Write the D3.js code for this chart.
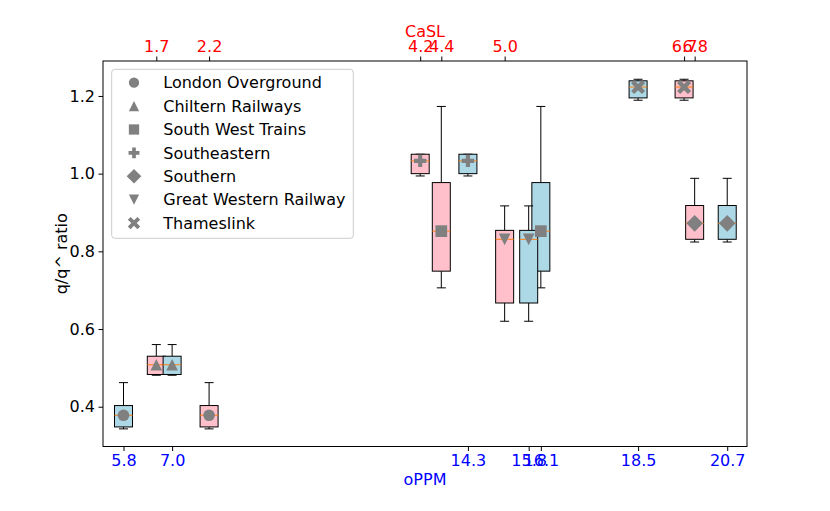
<!DOCTYPE html>
<html>
<head>
<meta charset="utf-8">
<script src="https://cdn.jsdelivr.net/npm/d3@7"></script>
<style>
  body { margin: 0; background: #fff; }
  svg { display: block; }
</style>
</head>
<body>
<svg id="chart" width="830" height="511"></svg>
<script>
// operators, one box pair each (pink = CaSL on top axis, blue = oPPM on bottom axis)
const operators = ["London Overground", "Chiltern Railways", "South West Trains",
  "Southeastern", "Southern", "Great Western Railway", "Thameslink"];
const shapes = ["circle", "triangle", "square", "plus", "diamond", "triangleDown", "x"];
const caslValues = [2.2, 1.7, 4.4, 4.2, 6.8, 5.0, 6.7];
const oppmValues = [5.8, 7.0, 16.1, 14.3, 20.7, 15.8, 18.5];

// q/q^ ratio summary per operator
const whiskerLow  = [0.343, 0.481, 0.706, 0.994, 0.824, 0.620, 1.189];
const q1          = [0.348, 0.483, 0.749, 1.000, 0.831, 0.667, 1.195];
const median      = [0.378, 0.508, 0.852, 1.033, 0.872, 0.831, 1.223];
const q3          = [0.403, 0.530, 0.977, 1.050, 0.918, 0.854, 1.239];
const whiskerHigh = [0.462, 0.560, 1.173, 1.050, 0.988, 0.917, 1.243];

const yTicks = [0.4, 0.6, 0.8, 1.0, 1.2];

const svg = d3.select("#chart");
const margin = { top: 61, right: 83, bottom: 64.5, left: 103 };
const width = +svg.attr("width") - margin.left - margin.right;
const height = +svg.attr("height") - margin.top - margin.bottom;
const font = "DejaVu Sans";

svg.append("rect").attr("width", 830).attr("height", 511).attr("fill", "#fff");

const g = svg.append("g").attr("transform", `translate(${margin.left},${margin.top})`);

const xBottom = d3.scaleLinear().domain([5.294, 21.188]).range([0, width]);
const xTop = d3.scaleLinear().domain([1.195, 7.296]).range([0, width]);
const y = d3.scaleLinear().domain([0.2976, 1.290]).range([height, 0]);

// marker shapes, centred on 0,0
function markerPath(shape, k = 1) {
  const s = 5.85 * k;
  const poly = pts => "M" + pts.map(p => p.join(",")).join("L") + "Z";
  if (shape === "circle") return d3.symbol(d3.symbolCircle, Math.PI * s * s)();
  if (shape === "triangle") return poly([[0, -s], [s, s], [-s, s]]);
  if (shape === "triangleDown") return poly([[0, s], [s, -s], [-s, -s]]);
  if (shape === "square") return poly([[-s, -s], [s, -s], [s, s], [-s, s]]);
  if (shape === "diamond") { const d = s * 1.42; return poly([[0, -d], [d, 0], [0, d], [-d, 0]]); }
  const L = shape === "plus" ? 6.2 * k : 7.7 * k;
  const w = shape === "plus" ? 2.1 * k : 2.2 * k;
  let pts = [[-w, -L], [w, -L], [w, -w], [L, -w], [L, w], [w, w], [w, L], [-w, L], [-w, w], [-L, w], [-L, -w], [-w, -w]];
  if (shape === "x") {
    const c = Math.SQRT1_2;
    pts = pts.map(([a, b]) => [(a - b) * c, (a + b) * c]);
  }
  return poly(pts);
}

const boxW = 18;

function drawBox(cx, i, fill) {
  const b = g.append("g");
  b.append("line").attr("x1", cx).attr("x2", cx)
    .attr("y1", y(whiskerLow[i])).attr("y2", y(q1[i])).attr("stroke", "#000");
  b.append("line").attr("x1", cx).attr("x2", cx)
    .attr("y1", y(q3[i])).attr("y2", y(whiskerHigh[i])).attr("stroke", "#000");
  [whiskerLow[i], whiskerHigh[i]].forEach(v => {
    b.append("line").attr("x1", cx - boxW / 4).attr("x2", cx + boxW / 4)
      .attr("y1", y(v)).attr("y2", y(v)).attr("stroke", "#000");
  });
  b.append("rect")
    .attr("x", cx - boxW / 2).attr("width", boxW)
    .attr("y", y(q3[i])).attr("height", y(q1[i]) - y(q3[i]))
    .attr("fill", fill).attr("stroke", "#000");
  b.append("line").attr("x1", cx - boxW / 2).attr("x2", cx + boxW / 2)
    .attr("y1", y(median[i])).attr("y2", y(median[i]))
    .attr("stroke", "#ff7f0e");
}

operators.forEach((op, i) => {
  drawBox(xTop(caslValues[i]), i, "pink");
  drawBox(xBottom(oppmValues[i]), i, "lightblue");
});

// median markers on top of the boxes
operators.forEach((op, i) => {
  [xTop(caslValues[i]), xBottom(oppmValues[i])].forEach(cx => {
    g.append("path")
      .attr("d", markerPath(shapes[i]))
      .attr("transform", `translate(${cx},${y(median[i])})`)
      .attr("fill", "#808080");
  });
});

// axes
const fmt = d3.format(".1f");
const yAxis = g.append("g")
  .call(d3.axisLeft(y).tickValues(yTicks).tickFormat(fmt).tickSize(4.5).tickPadding(3.5));
const bAxis = g.append("g").attr("transform", `translate(0,${height})`)
  .call(d3.axisBottom(xBottom).tickValues(oppmValues).tickFormat(fmt).tickSize(4.5).tickPadding(3.5));
const tAxis = g.append("g")
  .call(d3.axisTop(xTop).tickValues(caslValues).tickFormat(fmt).tickSize(4.5).tickPadding(4.5));

[yAxis, bAxis, tAxis].forEach(a => {
  a.attr("font-family", font).attr("font-size", 16);
  a.select(".domain").remove();
  a.selectAll(".tick line").attr("stroke", "#000");
});
yAxis.selectAll(".tick text").attr("fill", "#000");
bAxis.selectAll(".tick text").attr("fill", "blue");
tAxis.selectAll(".tick text").attr("fill", "red");

g.append("rect").attr("width", width).attr("height", height)
  .attr("fill", "none").attr("stroke", "#000");

// axis titles
svg.append("text")
  .attr("x", margin.left + width / 2).attr("y", 485)
  .attr("text-anchor", "middle").attr("font-family", font).attr("font-size", 16)
  .attr("fill", "blue").text("oPPM");
svg.append("text")
  .attr("x", margin.left + width / 2).attr("y", 36.5)
  .attr("text-anchor", "middle").attr("font-family", font).attr("font-size", 16)
  .attr("fill", "red").text("CaSL");
svg.append("text")
  .attr("transform", `translate(67,${margin.top + height / 2}) rotate(-90)`)
  .attr("text-anchor", "middle").attr("font-family", font).attr("font-size", 16)
  .attr("fill", "#000").text("q/q^ ratio");

// legend
const legend = svg.append("g").attr("transform", "translate(111.7,69.3)");
legend.append("rect")
  .attr("width", 241.6).attr("height", 169).attr("rx", 3)
  .attr("fill", "#fff").attr("fill-opacity", 0.8).attr("stroke", "#ccc");
operators.forEach((op, i) => {
  const cy = 13.4 + i * 23.4;
  legend.append("path")
    .attr("d", markerPath(shapes[i], 0.88))
    .attr("transform", `translate(22.3,${cy})`)
    .attr("fill", "#808080");
  legend.append("text")
    .attr("x", 51.6).attr("y", cy).attr("dy", "0.36em")
    .attr("font-family", font).attr("font-size", 16)
    .text(op);
});
</script>
</body>
</html>
